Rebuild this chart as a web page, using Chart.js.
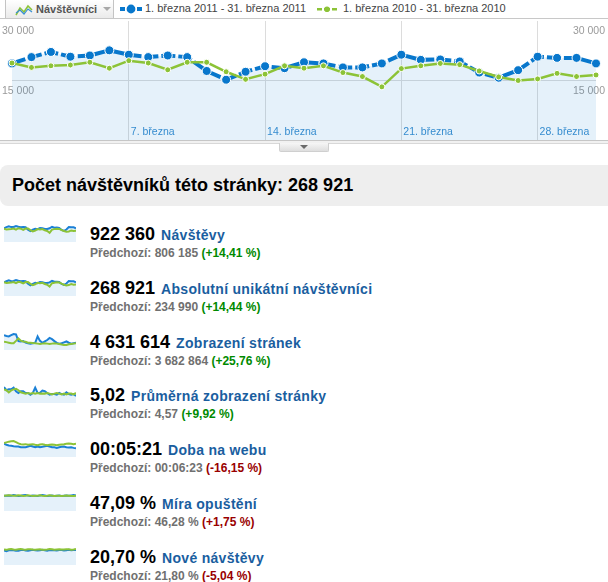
<!DOCTYPE html>
<html lang="cs">
<head>
<meta charset="utf-8">
<title>Návštěvníci</title>
<script src="https://cdn.jsdelivr.net/npm/chart.js@4.4.1/dist/chart.umd.min.js"></script>
<style>
  html, body { margin: 0; padding: 0; background: #fff; }
  body {
    width: 608px; height: 582px; position: relative; overflow: hidden;
    font-family: "Liberation Sans", Arial, sans-serif;
  }
  .abs { position: absolute; }
  .tab {
    left: 5px; top: -1px; width: 107px; height: 19px;
    border: 1px solid #c4c4c4; border-bottom: none;
    background: linear-gradient(#ffffff, #e9e9e9);
  }
  .tab-text { left: 30px; top: 3px; font-size: 11px; font-weight: bold; color: #555; }
  .tab-arrow {
    left: 97px; top: 7px; width: 0; height: 0;
    border-left: 4px solid transparent; border-right: 4px solid transparent;
    border-top: 4px solid #a8a8a8;
  }
  .topline { left: 0; top: 18px; width: 608px; height: 1px; background: #c8c8c8; }
  .legend-text { top: 2px; font-size: 11px; color: #444; white-space: nowrap; }
  .band {
    left: 0; top: 140px; width: 608px; height: 2px;
    border-top: 1px solid #c6c6c6; border-bottom: 1px solid #d8d8d8; background: #f1f1f1;
  }
  .drop {
    left: 279px; top: 143px; width: 48px; height: 8px;
    border: 1px solid #cfcfcf; border-top: none; border-radius: 0 0 2px 2px;
    background: linear-gradient(#f6f6f6, #dedede);
  }
  .drop-arrow {
    left: 20px; top: 2px; width: 0; height: 0;
    border-left: 4px solid transparent; border-right: 4px solid transparent;
    border-top: 4px solid #6a6a6a;
  }
  .title {
    left: 0; top: 165px; width: 620px; height: 41px; border-radius: 8px;
    background: #eeeeee; font-size: 18px; font-weight: bold; color: #000;
    line-height: 41px; padding-left: 12px; box-sizing: border-box; white-space: nowrap;
  }
  .row { left: 90px; white-space: nowrap; }
  .row .val { font-size: 18px; font-weight: bold; color: #000; line-height: 20px; }
  .row .name { font-size: 14px; font-weight: bold; color: #1a5e9f; margin-left: 6px; letter-spacing: 0.3px; }
  .row .sub { font-size: 12px; font-weight: bold; color: #707070; line-height: 14px; margin-top: 2px; }
  .good { color: #008a00; }
  .bad { color: #990000; }
</style>
</head>
<body>

<div class="abs tab">
  <svg class="abs" style="left:9px;top:4px" width="18" height="12" viewBox="0 0 18 12">
    <polyline points="1,11 5,4 9,8 13,2 17,6" fill="none" stroke="#8cc337" stroke-width="1.6"/>
    <polyline points="1,9 5,6 9,10 13,5 17,8" fill="none" stroke="#3a8fd6" stroke-width="1.2"/>
  </svg>
  <div class="abs tab-text">Návštěvníci</div>
  <div class="abs tab-arrow"></div>
</div>
<div class="abs topline"></div>

<svg class="abs" style="left:119px;top:3px" width="24" height="12" viewBox="0 0 24 12">
  <rect x="1" y="4" width="5" height="4" fill="#0877cc"/>
  <rect x="8" y="4" width="8" height="4" fill="#0877cc"/>
  <rect x="18" y="4" width="5" height="4" fill="#0877cc"/>
  <circle cx="12" cy="6" r="4.4" fill="#0877cc"/>
</svg>
<div class="abs legend-text" style="left:145px">1. března 2011 - 31. března 2011</div>

<svg class="abs" style="left:316px;top:3px" width="22" height="12" viewBox="0 0 22 12">
  <rect x="1" y="5" width="5" height="2.5" fill="#8cc337"/>
  <rect x="8" y="5" width="6" height="2.5" fill="#8cc337"/>
  <rect x="16" y="5" width="5" height="2.5" fill="#8cc337"/>
  <circle cx="11" cy="6.2" r="2.8" fill="#8cc337"/>
</svg>
<div class="abs legend-text" style="left:343px">1. března 2010 - 31. března 2010</div>

<canvas id="mainChart" class="abs" style="left:0;top:19px" width="608" height="121"></canvas>

<div class="abs band"></div>
<div class="abs drop"><div class="abs drop-arrow"></div></div>

<div class="abs title">Počet návštěvníků této stránky: 268 921</div>

<div id="rows"></div>

<script>
// ===== Data =====
const days = [1, 2, 3, 4, 5, 6, 7, 8, 9, 10, 11, 12, 13, 14, 15, 16,
  17, 18, 19, 20, 21, 22, 23, 24, 25, 26, 27, 28, 29, 30, 31];

const visitors2011 = [19300, 20900, 22200, 21000, 21300, 22600, 21500, 20900, 21300, 20900, 17400,
  15200, 17200, 18600, 18100, 19600, 19300, 18300, 18300, 19300, 21500, 20200, 20300, 19800, 17000,
  15700, 17600, 21000, 20700, 20700, 19300];
const visitors2010 = [19400, 18300, 18700, 18900, 19600, 18100, 20000, 19400, 17700, 19600, 19600,
  17200, 15300, 16600, 18700, 18100, 18700, 17000, 16000, 13400, 18000, 18700, 19300, 19000, 17400,
  15900, 15000, 15400, 16800, 16000, 16400];

const yTickValues = [15000, 30000];
const yTickLabels = ['15 000', '30 000'];
const weekDays = [7, 14, 21, 28];
const weekLabels = ['7. března', '14. března', '21. března', '28. března'];

// sparklines
const visits2011 = [29400, 31800, 33600, 31900, 32300, 34200, 32600, 31700, 32300, 31600, 26400,
  23100, 26200, 28300, 27500, 29800, 29300, 27800, 27700, 29300, 32600, 30600, 30800, 30000, 25800,
  23900, 26700, 31900, 31400, 31400, 29300];
const visits2010 = [28500, 26900, 27500, 27800, 28800, 26600, 29400, 28500, 26000, 28800, 28800,
  25300, 22500, 24400, 27500, 26600, 27500, 25000, 23500, 19700, 26500, 27500, 28400, 27900, 25600,
  23400, 22100, 22600, 24700, 23500, 24100];
const pageviews2011 = [262000, 245000, 238000, 260000, 281000, 275000, 156000, 150000, 156000, 130000,
  118000, 112000, 118000, 126000, 238000, 160000, 126000, 150000, 175000, 212000, 190000, 156000,
  125000, 112000, 118000, 135000, 150000, 128000, 112000, 120000, 126000];
const pageviews2010 = [146000, 138000, 128000, 118000, 118000, 160000, 205000, 164000, 150000, 146000,
  128000, 128000, 122000, 118000, 112000, 106000, 112000, 118000, 112000, 106000, 112000, 118000,
  112000, 106000, 95000, 88000, 88000, 100000, 106000, 112000, 118000];
const pagesPerVisit2011 = [7.5, 6.0, 6.4, 6.4, 7.2, 5.5, 4.7, 5.5, 5.5, 4.7, 4.7, 3.9, 4.7, 7.2, 4.7,
  4.8, 5.8, 5.5, 4.7, 3.9, 4.2, 4.2, 3.9, 4.7, 4.2, 3.9, 5.0, 4.2, 3.9, 4.2, 3.3];
const pagesPerVisit2010 = [6.4, 6.0, 5.0, 5.9, 6.4, 6.7, 6.0, 5.0, 4.7, 4.4, 4.7, 4.4, 4.7, 4.4, 4.7,
  4.4, 4.5, 4.4, 4.7, 4.4, 4.0, 4.4, 4.7, 4.4, 4.0, 4.4, 4.0, 4.4, 4.4, 4.0, 4.7];
const timeOnSite2011 = [409, 377, 354, 345, 331, 322, 322, 299, 299, 299, 322, 345, 322, 299, 322, 299,
  313, 331, 345, 322, 299, 299, 281, 299, 313, 322, 299, 290, 299, 281, 267];
const timeOnSite2010 = [428, 451, 473, 483, 493, 460, 419, 396, 386, 396, 377, 386, 396, 377, 364, 386,
  396, 377, 364, 377, 386, 377, 364, 377, 386, 396, 409, 419, 409, 396, 409];
const bounce2011 = [46.5, 47.2, 48.0, 46.8, 49.0, 47.5, 46.2, 47.0, 48.1, 49.2, 47.3, 46.4, 47.9, 47.1,
  46.3, 48.0, 49.0, 47.8, 46.2, 47.0, 47.9, 46.4, 47.2, 48.0, 46.3, 47.1, 47.8, 47.0, 47.9, 48.8, 47.6];
const bounce2010 = [46.8, 47.6, 48.5, 47.4, 46.6, 47.2, 48.3, 47.4, 46.5, 47.0, 48.2, 47.3, 46.4, 47.0,
  47.2, 48.3, 47.1, 46.1, 46.9, 48.1, 47.0, 46.0, 46.8, 46.7, 45.9, 46.6, 47.6, 46.8, 46.0, 46.5, 46.7];
const newVisits2011 = [20.2, 19.4, 20.5, 21.0, 20.6, 20.1, 19.8, 20.9, 21.2, 20.4, 19.9, 20.6, 21.3, 20.8,
  20.2, 20.7, 21.4, 20.6, 20.0, 20.8, 21.1, 20.5, 20.3, 21.0, 20.9, 20.4, 20.8, 21.2, 20.6, 20.9, 21.0];
const newVisits2010 = [21.6, 21.2, 21.9, 22.3, 21.7, 21.4, 22.0, 22.4, 21.8, 21.5, 21.9, 22.2, 21.6, 21.3,
  21.8, 22.1, 21.5, 21.2, 21.7, 22.3, 21.9, 21.4, 21.8, 22.0, 21.6, 21.7, 22.2, 21.9, 21.5, 21.8, 22.4];

const metricValues = ['922 360', '268 921', '4 631 614', '5,02', '00:05:21', '47,09 %', '20,70 %'];
const metricNames = ['Návštěvy', 'Absolutní unikátní návštěvníci', 'Zobrazení stránek',
  'Průměrná zobrazení stránky', 'Doba na webu', 'Míra opuštění', 'Nové návštěvy'];
const metricPrev = ['806 185', '234 990', '3 682 864', '4,57', '00:06:23', '46,28 %', '21,80 %'];
const metricChange = ['+14,41 %', '+14,44 %', '+25,76 %', '+9,92 %', '-16,15 %', '+1,75 %', '-5,04 %'];
const metricGood = [true, true, true, true, false, false, false];
const sparkCurrent = [visits2011, visitors2011, pageviews2011, pagesPerVisit2011, timeOnSite2011, bounce2011, newVisits2011];
const sparkPrevious = [visits2010, visitors2010, pageviews2010, pagesPerVisit2010, timeOnSite2010, bounce2010, newVisits2010];

// ===== Styles =====
const BLUE = '#0877cc';
const GREEN = '#8cc337';
const FILL = 'rgba(5, 125, 205, 0.105)';
const GRID = '#dcdcdc';
const LABEL_BLUE = '#3a8ecf';
const TICK_FONT = { size: 10.5, family: '"Liberation Sans", Arial, sans-serif' };

function yLabel(v) {
  const k = yTickValues.indexOf(v);
  return k >= 0 ? yTickLabels[k] : '';
}

// no extra room for the end labels, the chart area fills the box
function noPadding(scale) {
  scale.paddingTop = 0;
  scale.paddingBottom = 0;
  scale.paddingLeft = 0;
  scale.paddingRight = 0;
}

// labels are mirrored so they are not clipped to the narrow axis box
function yAxis(position, width, pad) {
  return {
    position: position,
    min: 0,
    max: 30000,
    border: { display: false },
    afterBuildTicks: (scale) => {
      scale.ticks = [0].concat(yTickValues).map((v) => ({ value: v }));
    },
    afterFit: (scale) => {
      scale.width = width;
      noPadding(scale);
    },
    grid: {
      display: position === 'left',
      drawTicks: false,
      color: (ctx) => (ctx.tick && ctx.tick.value === 15000 ? GRID : 'rgba(0,0,0,0)'),
    },
    ticks: {
      mirror: true,
      crossAlign: 'near',
      padding: pad,
      labelOffset: 10.5,
      color: '#9a9a9a',
      font: TICK_FONT,
      callback: yLabel,
    },
  };
}

// Main chart
new Chart(document.getElementById('mainChart'), {
  type: 'line',
  data: {
    labels: days,
    datasets: [
      {
        label: '1. března 2011 - 31. března 2011',
        data: visitors2011,
        borderColor: BLUE,
        borderWidth: 4,
        borderDash: [14, 3],
        pointRadius: 4.5,
        pointBackgroundColor: BLUE,
        pointBorderColor: '#fff',
        pointBorderWidth: 1,
        fill: 'origin',
        backgroundColor: FILL,
        tension: 0,
        order: 2,
      },
      {
        label: '1. března 2010 - 31. března 2010',
        data: visitors2010,
        borderColor: GREEN,
        borderWidth: 2.5,
        pointRadius: 3,
        pointBackgroundColor: GREEN,
        pointBorderColor: '#fff',
        pointBorderWidth: 1,
        fill: false,
        tension: 0,
        order: 1,
      },
    ],
  },
  options: {
    responsive: false,
    animation: false,
    events: [],
    layout: { autoPadding: false, padding: { top: 2, left: 2, right: 3, bottom: 0 } },
    plugins: { legend: { display: false }, tooltip: { enabled: false } },
    scales: {
      x: {
        type: 'category',
        offset: false,
        border: { display: false },
        afterFit: (scale) => {
          scale.height = 0;
          noPadding(scale);
        },
        grid: {
          drawTicks: false,
          color: (ctx) => (weekDays.includes(days[ctx.index]) ? GRID : 'rgba(0,0,0,0)'),
        },
        ticks: {
          autoSkip: false,
          maxRotation: 0,
          mirror: true,
          padding: 2,
          align: 'start',
          labelOffset: 2,
          color: LABEL_BLUE,
          font: TICK_FONT,
          callback: (v, i) => {
            const k = weekDays.indexOf(days[i]);
            return k >= 0 ? weekLabels[k] : '';
          },
        },
      },
      y: yAxis('left', 10, -10),
      y2: yAxis('right', 9, 9),
    },
  },
});

// Metric rows with sparklines
const rows = document.getElementById('rows');

metricValues.forEach((value, i) => {
  const top = 224 + i * 53.83;

  const row = document.createElement('div');
  row.className = 'abs row';
  row.style.top = top + 'px';
  row.innerHTML =
    '<div><span class="val">' + value + '</span><span class="name">' + metricNames[i] + '</span></div>' +
    '<div class="sub">Předchozí: ' + metricPrev[i] + ' <span class="' + (metricGood[i] ? 'good' : 'bad') + '">(' +
    metricChange[i] + ')</span></div>';
  rows.appendChild(row);

  const canvas = document.createElement('canvas');
  canvas.className = 'abs';
  canvas.width = 72;
  canvas.height = 20;
  canvas.style.left = '4px';
  canvas.style.top = (top - 2) + 'px';
  rows.appendChild(canvas);

  const cur = sparkCurrent[i];
  const prev = sparkPrevious[i];
  const yMax = Math.max(...cur, ...prev) * 1.25;

  new Chart(canvas, {
    type: 'line',
    data: {
      labels: days,
      datasets: [
        { data: cur, borderColor: '#1b80d6', borderWidth: 2, pointRadius: 0, fill: 'origin',
          backgroundColor: FILL, tension: 0, order: 2 },
        { data: prev, borderColor: GREEN, borderWidth: 2, pointRadius: 0, fill: false,
          tension: 0, order: 1 },
      ],
    },
    options: {
      responsive: false,
      animation: false,
      events: [],
      layout: { autoPadding: false, padding: 0 },
      plugins: { legend: { display: false }, tooltip: { enabled: false } },
      scales: {
        x: { display: false, offset: false },
        y: { display: false, min: 0, max: yMax },
      },
    },
  });
});
</script>
</body>
</html>
